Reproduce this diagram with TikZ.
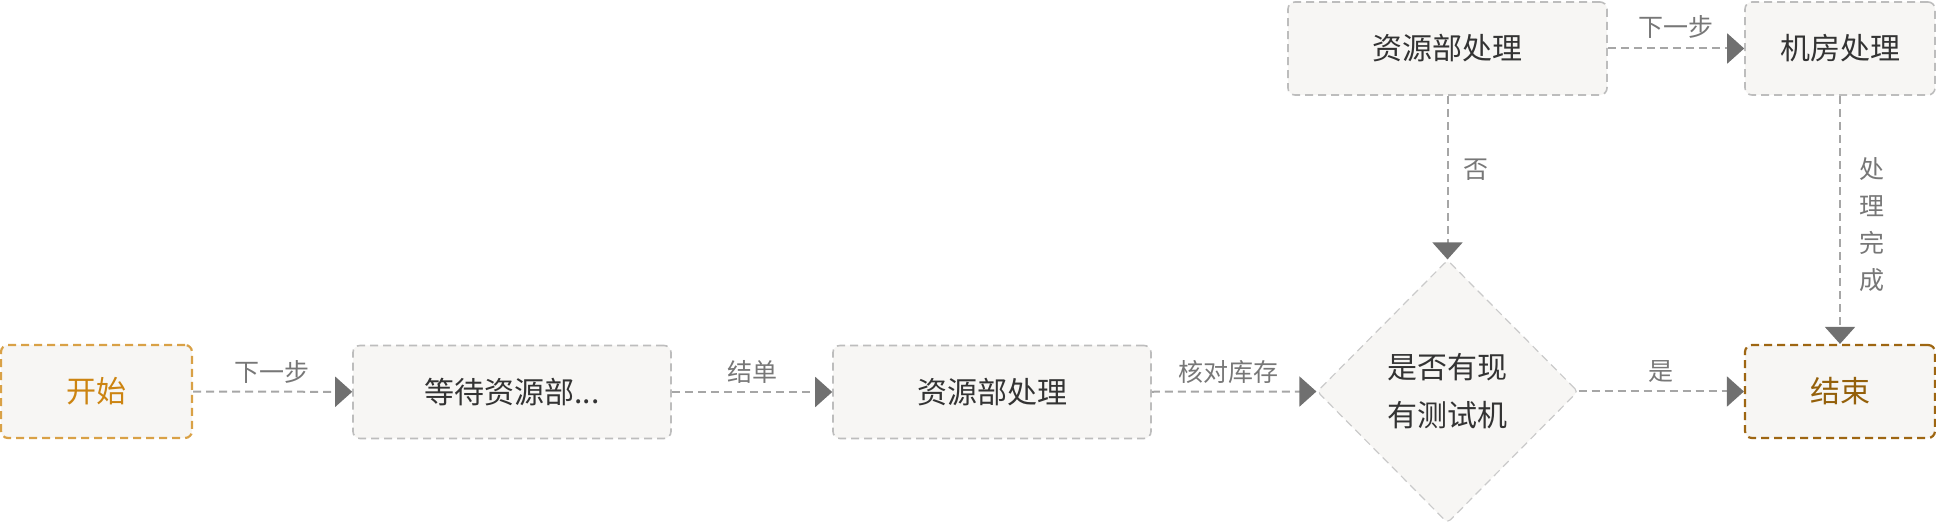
\documentclass[tikz,border=0pt]{standalone}
\usepackage{fontspec}
\setmainfont{Noto Sans CJK SC}
\usetikzlibrary{arrows.meta,shapes.geometric}
\definecolor{boxfill}{HTML}{F7F6F4}
\definecolor{boxline}{HTML}{BDBDBD}
\definecolor{txt}{HTML}{333333}
\definecolor{lbl}{HTML}{777777}
\definecolor{conn}{HTML}{A6A6A6}
\definecolor{tipc}{HTML}{707070}
\definecolor{startline}{HTML}{D9A146}
\definecolor{starttxt}{HTML}{CC8411}
\definecolor{endline}{HTML}{9E6612}
\definecolor{endtxt}{HTML}{94600A}
\tikzset{
  stepbox/.style={draw=boxline, fill=boxfill, line width=1.6pt, dash pattern=on 8pt off 5pt,
    rounded corners=7pt, minimum height=93pt, inner sep=0pt, text=txt,
    font=\fontsize{30}{36}\selectfont},
  widebox/.style={stepbox, minimum width=318pt},
  narrowbox/.style={stepbox, minimum width=190pt},
  decbox/.style={draw=boxline!80, fill=boxfill, line width=1.2pt, dash pattern=on 8pt off 5pt,
    diamond, aspect=1, minimum width=261pt, minimum height=263pt, inner sep=0pt,
    rounded corners=4pt, text=txt, align=center, font=\fontsize{30}{48}\selectfont},
  conn/.style={draw=conn, line width=2pt, dash pattern=on 8pt off 5pt,
    -{Triangle[length=17pt,width=30pt,color=tipc,fill=tipc]}},
  lab/.style={text=lbl, font=\fontsize{25}{30}\selectfont, inner sep=0pt}
}
\begin{document}
\begin{tikzpicture}[x=1pt,y=-1pt]
\useasboundingbox (0,0) rectangle (1936,526);
\node[narrowbox, minimum width=191pt, draw=startline, text=starttxt, line width=2.2pt] (start) at (96.5,391.5) {开始};
\node[widebox] (wait) at (512,392) {等待资源部...};
\node[widebox] (res1) at (992,392) {资源部处理};
\node[decbox] (dec) at (1447.5,391.5) {是否有现\\有测试机};
\node[narrowbox, draw=endline, text=endtxt, line width=2.2pt] (end) at (1840,391.5) {结束};
\node[widebox, minimum width=319pt] (res2) at (1447.5,48.5) {资源部处理};
\node[narrowbox] (room) at (1840,48.5) {机房处理};

\draw[conn] (start) -- (wait);
\draw[conn] (wait) -- (res1);
\draw[conn] (res1) -- (dec.west);
\draw[conn] (dec.east) -- (end);
\draw[conn] (res2.south) -- (dec.north);
\draw[conn] (res2) -- (room);
\draw[conn] (room) -- (end);

\node[lab] (l1) at (272,372) {下一步};
\node[lab] (l2) at (752,372) {结单};
\node[lab] (l3) at (1228,372) {核对库存};
\node[lab] (l4) at (1661,372) {是};
\node[lab] (l5) at (1676,27) {下一步};
\node[lab] (l6) at (1476,170) {否};
\node[lab, align=center, font=\fontsize{25}{37}\selectfont] (l7) at (1872,225) {处\\理\\完\\成};
\end{tikzpicture}
\end{document}
